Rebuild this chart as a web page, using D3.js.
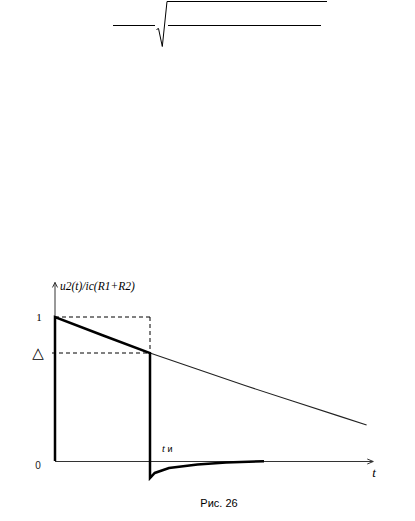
<!DOCTYPE html>
<html><head><meta charset="utf-8">
<script src="https://cdn.jsdelivr.net/npm/d3@7"></script>
<style>html,body{margin:0;padding:0;background:#fff;}svg{display:block;}</style>
</head><body>
<script>
// ---- data ----
const tDecay = [0, 0.5, 1, 1.5, 2, 2.5, 3, 3.28];
const vDecay = [1, 0.873, 0.75, 0.637, 0.524, 0.416, 0.31, 0.25];
const tTail = [1, 1.05, 1.2, 1.5, 1.8, 2.2];
const vTail = [-0.118, -0.083, -0.049, -0.024, -0.01, -0.002];
const tPulseEnd = 1;     // t_и
const deltaLevel = 0.75; // Δ
const xAxisMax = 3.35;
const yAxisMax = 1.24;
const yTickLabels = [{v: 1, text: "1"}, {v: deltaLevel, text: "△"}, {v: 0, text: "0"}];

const W = 415, H = 521;
const svg = d3.select("body").append("svg").attr("width", W).attr("height", H);

const x = d3.scaleLinear().domain([0, 1]).range([55, 150]);
const y = d3.scaleLinear().domain([0, 1]).range([461, 317]);

// ---- top formula fragment (fraction bar with radical) ----
const f = svg.append("g").attr("fill", "none").attr("stroke", "#000").attr("stroke-width", 1);
f.append("line").attr("x1", 113).attr("y1", 25.5).attr("x2", 155).attr("y2", 25.5);
f.append("path").attr("d", "M156.5,29.5 L158.5,28.5 L162.3,46.5 L167,1.5 L327,1.5");
f.append("line").attr("x1", 168).attr("y1", 25.5).attr("x2", 321).attr("y2", 25.5);

// ---- axes ----
const ax = svg.append("g").attr("stroke", "#333").attr("stroke-width", 1).attr("fill", "none");
ax.append("line").attr("x1", x(0)).attr("y1", y(0)).attr("x2", x(0)).attr("y2", y(yAxisMax));
ax.append("path").attr("d", `M${x(0)-2.5},${y(yAxisMax)+5} L${x(0)},${y(yAxisMax)} L${x(0)+2.5},${y(yAxisMax)+5}`);
ax.append("line").attr("x1", x(0)).attr("y1", y(0)+0.5).attr("x2", x(xAxisMax)).attr("y2", y(0)+0.5);
ax.append("path").attr("d", `M${x(xAxisMax)-6},${y(0)-2} L${x(xAxisMax)},${y(0)+0.5} L${x(xAxisMax)-6},${y(0)+3}`);

// ---- dashed guides ----
const dg = svg.append("g").attr("stroke", "#000").attr("stroke-width", 1).attr("stroke-dasharray", "4,3").attr("fill", "none");
dg.append("line").attr("x1", x(0)).attr("y1", y(1)).attr("x2", x(tPulseEnd)).attr("y2", y(1));
dg.append("line").attr("x1", x(tPulseEnd)).attr("y1", y(1)).attr("x2", x(tPulseEnd)).attr("y2", y(deltaLevel));
dg.append("line").attr("x1", x(0) - 3).attr("y1", y(deltaLevel)).attr("x2", x(tPulseEnd)).attr("y2", y(deltaLevel));

// ---- thin continuation of exponential ----
const line = d3.line().x(d => x(d[0])).y(d => y(d[1]));
const decayPts = tDecay.map((t, i) => [t, vDecay[i]]);
svg.append("path")
  .attr("d", line(decayPts.filter(d => d[0] >= tPulseEnd)))
  .attr("fill", "none").attr("stroke", "#222").attr("stroke-width", 1.1);

// ---- thick pulse response ----
const pulsePts = [[0, 0]].concat(decayPts.filter(d => d[0] <= tPulseEnd))
  .concat(tTail.map((t, i) => [t, vTail[i]]));
svg.append("path")
  .attr("d", line(pulsePts))
  .attr("fill", "none").attr("stroke", "#000").attr("stroke-width", 2.5)
  .attr("stroke-linejoin", "miter");

// ---- labels ----
svg.append("text").attr("x", x(0) + 5).attr("y", y(yAxisMax) + 8)
  .attr("font-family", "Liberation Serif").attr("font-style", "italic").attr("font-size", 11.5)
  .text("u2(t)/ic(R1+R2)");

yTickLabels.forEach(d => {
  const t = svg.append("text").attr("text-anchor", "middle").text(d.text);
  if (d.text === "△") {
    t.attr("x", 38).attr("y", y(d.v) + 5).attr("font-family", "DejaVu Sans").attr("font-size", 15);
  } else if (d.text === "1") {
    t.attr("x", 39).attr("y", y(d.v) + 4).attr("font-family", "Liberation Serif").attr("font-size", 11);
  } else {
    t.attr("x", 38).attr("y", y(d.v) + 8).attr("font-family", "Liberation Sans").attr("font-size", 10).attr("fill", "#222");
  }
});

const tl = svg.append("text").attr("x", x(tPulseEnd) + 12).attr("y", y(0) - 9)
  .attr("font-family", "Liberation Serif").attr("font-size", 10.5);
tl.append("tspan").attr("font-style", "italic").text("t ");
tl.append("tspan").attr("font-family", "Liberation Sans").attr("font-size", 9).text("и");

svg.append("text").attr("x", x(xAxisMax) - 1).attr("y", y(0) + 16)
  .attr("font-family", "Liberation Serif").attr("font-style", "italic").attr("font-size", 13)
  .text("t");

svg.append("text").attr("x", 219).attr("y", 507).attr("text-anchor", "middle")
  .attr("font-family", "Liberation Sans").attr("font-size", 11)
  .text("Рис. 26");
</script>
</body></html>
